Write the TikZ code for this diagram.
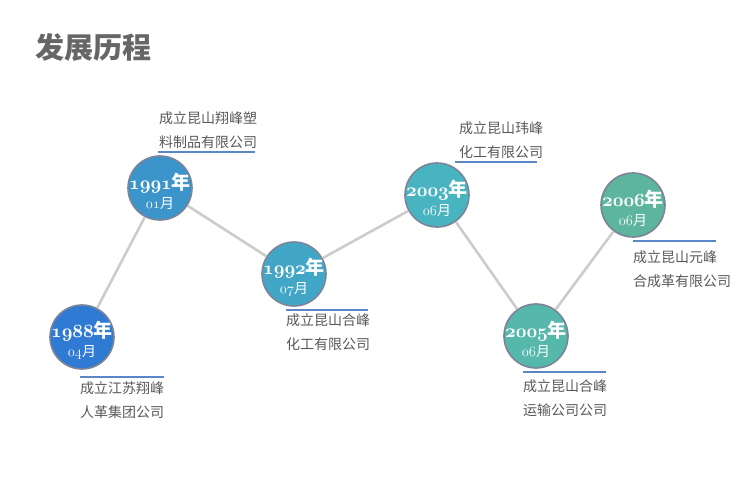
\documentclass[tikz,border=0pt]{standalone}
\usepackage{fontspec}
\usepackage{xcolor}
\newfontfamily\cjk{Noto Sans CJK SC}
\newcommand{\yrnum}[1]{\scalebox{1.08}{\boldmath$\mathnormal{#1}$}}
\newcommand{\monum}[1]{$\mathnormal{#1}$}
\definecolor{txtgray}{HTML}{595959}
\definecolor{rulblue}{HTML}{5B87C6}
\definecolor{ringgray}{HTML}{7B8499}
\definecolor{c88}{HTML}{2F7AD3}
\definecolor{c91}{HTML}{3B95CB}
\definecolor{c92}{HTML}{42A7C6}
\definecolor{c03}{HTML}{48B4C0}
\definecolor{c05}{HTML}{55B8AB}
\definecolor{c06}{HTML}{5CB59C}
\begin{document}
\begin{tikzpicture}[x=1pt,y=-1pt,
	dot/.style={circle,draw=ringgray,line width=1.6pt,minimum size=64pt,inner sep=0pt},
	when/.style={inner sep=0pt,text=white,align=center,font=\fontsize{19}{21}\selectfont},
	link/.style={draw=black!20,line width=2.6pt},
	note/.style={inner sep=0pt,align=left,text=txtgray,
		font=\cjk\fontsize{14}{24}\selectfont},
	rul/.style={draw=rulblue,line width=1.3pt}]
	\useasboundingbox (0,0) rectangle (740,500);
	\node[anchor=west,text=black!60,font=\cjk\bfseries\fontsize{29}{31}\selectfont] (title) at (32,47) {发展历程};
	% milestones
	\foreach \n/\x/\y/\yr/\mo in {88/82/337/1988/04, 91/160/188/1991/01, 92/294/274/1992/07,
		03/437/195/2003/06, 05/536/336/2005/06, 06/633/205/2006/06}{
		\node[dot,fill=c\n] (m\n) at (\x,\y) {};
		\node[when] (t\n) at ([yshift=-3pt]m\n.center)
			{\yrnum{\yr}{\cjk\bfseries 年}\\[-2pt]
			{\fontsize{14}{16}\selectfont\monum{\mo}\cjk 月}};
	}
	\draw[link] (m88) -- (m91) -- (m92) -- (m03) -- (m05) -- (m06);
	% labels
	\node[note,anchor=north west] (n88) at (80,381) {成立江苏翔峰\\人革集团公司};
	\node[note,anchor=south west] (n91) at (159,149) {成立昆山翔峰塑\\料制品有限公司};
	\node[note,anchor=north west] (n92) at (286,313) {成立昆山合峰\\化工有限公司};
	\node[note,anchor=south west] (n03) at (459,159) {成立昆山玮峰\\化工有限公司};
	\node[note,anchor=north west] (n05) at (523,379) {成立昆山合峰\\运输公司公司};
	\node[note,anchor=north west] (n06) at (633,250) {成立昆山元峰\\合成革有限公司};
	\draw[rul] ([yshift=4pt]n88.north west) -- ++(84,0);
	\draw[rul] ([xshift=-1pt,yshift=-3pt]n91.south west) -- ++(97,0);
	\draw[rul] ([yshift=3pt]n92.north west) -- ++(82,0);
	\draw[rul] ([xshift=-4pt,yshift=-3pt]n03.south west) -- ++(82,0);
	\draw[rul] ([yshift=7pt]n05.north west) -- ++(83,0);
	\draw[rul] ([yshift=9pt]n06.north west) -- ++(83,0);
\end{tikzpicture}
\end{document}
